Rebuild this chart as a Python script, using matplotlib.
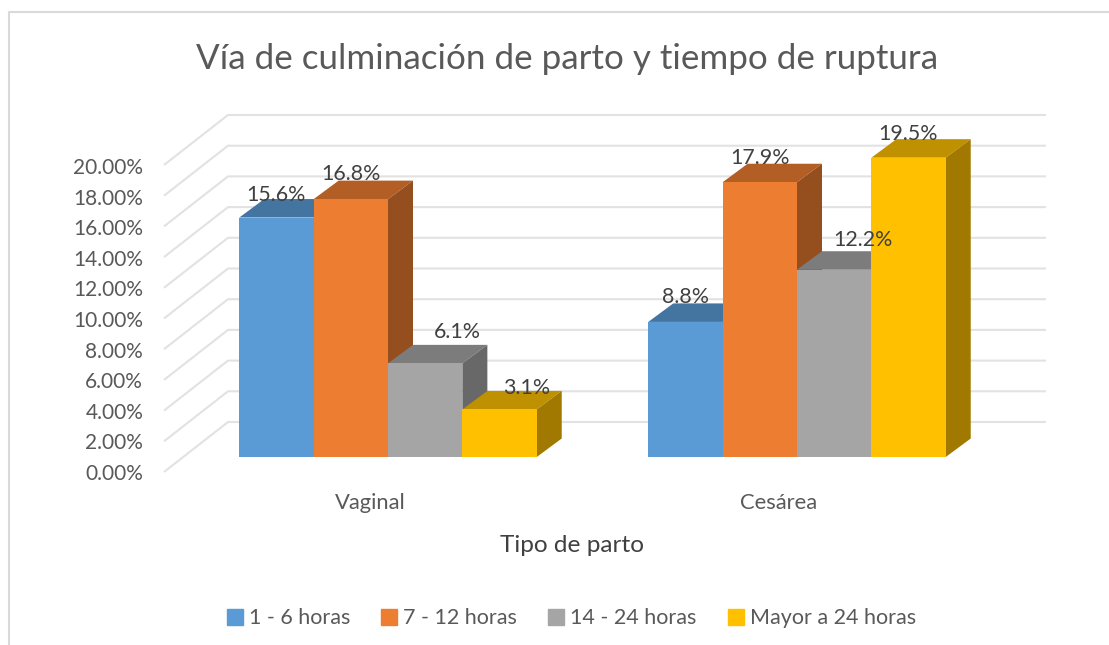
import matplotlib
matplotlib.use("Agg")
import matplotlib.pyplot as plt
from matplotlib.colors import to_rgb
from matplotlib.lines import Line2D
from matplotlib.patches import Polygon

# Datos del grafico
categories = ["Vaginal", "Cesárea"]
series_names = ["1 - 6 horas", "7 - 12 horas", "14 - 24 horas", "Mayor a 24 horas"]
horas_1_6 = [15.6, 8.8]
horas_7_12 = [16.8, 17.9]
horas_14_24 = [6.1, 12.2]
horas_mayor_24 = [3.1, 19.5]
y_ticks = [0, 2, 4, 6, 8, 10, 12, 14, 16, 18, 20]

colors = ["#5B9BD5", "#ED7D31", "#A5A5A5", "#FFC000"]
series = [horas_1_6, horas_7_12, horas_14_24, horas_mayor_24]

W, H = 1109, 645
PX_X = 409.0  # pixeles entre categorias
PX_Y = 15.35  # pixeles por 1%
LEFT, RIGHT = 164, 1046
BASE = 457
TOP = 100
CENTER0 = 388
GRID_LINE = "#E2E2E2"
TEXT = "#595959"

plt.rcParams["font.family"] = ["Lato", "DejaVu Sans"]

fig = plt.figure(figsize=(W / 100, H / 100), dpi=100)
ax = fig.add_axes([LEFT / W, (H - BASE) / H, (RIGHT - LEFT) / W, (BASE - TOP) / H])
ax.set_xlim((LEFT - CENTER0) / PX_X, (RIGHT - CENTER0) / PX_X)
ax.set_ylim(0, (BASE - TOP) / PX_Y)
for s in ax.spines.values():
    s.set_visible(False)
ax.patch.set_alpha(0)


def dx(px):
    return px / PX_X


def dy(px):
    return px / PX_Y


# Paredes: lineas de la cuadricula
x_left = ax.get_xlim()[0]
x_right = ax.get_xlim()[1]
for t in y_ticks:
    ax.plot([x_left, x_left + dx(64), x_right],
            [t - dy(15), t + dy(35), t + dy(35)],
            color=GRID_LINE, lw=1.5, clip_on=False, zorder=1, solid_capstyle="butt")

# Barras con caras 3D
width = 1 / 5.5
depth_x, depth_y = dx(25), dy(18.5)
label_shift = [[(0, 23), (0, 25), (32, 31), (27, 21)],
               [(0, 25), (0, 24), (29, 30), (0, 24)]]
z = 2
for c in range(len(categories)):
    for i, values in enumerate(series):
        v = values[c]
        x0 = c + (i - 2) * width
        x1 = x0 + width
        rgb = to_rgb(colors[i])
        top = tuple(k * 0.75 for k in rgb)
        side = tuple(k * 0.63 for k in rgb)
        ax.add_patch(Polygon([(x0, v), (x1, v), (x1 + depth_x, v + depth_y), (x0 + depth_x, v + depth_y)],
                             closed=True, fc=top, ec="none", clip_on=False, zorder=z))
        ax.add_patch(Polygon([(x1, 0), (x1 + depth_x, depth_y), (x1 + depth_x, v + depth_y), (x1, v)],
                             closed=True, fc=side, ec="none", clip_on=False, zorder=z))
        ax.bar(x0, v, width, align="edge", color=colors[i], clip_on=False, zorder=z + 0.5)
        z += 1

# Etiquetas de datos (al final, encima de las barras)
for c in range(len(categories)):
    for i, values in enumerate(series):
        sx, sy = label_shift[c][i]
        ax.text(c + (i - 1.5) * width + dx(sx), values[c] + dy(sy), f"{values[c]}%",
                ha="center", va="center", fontsize=15.4, color="#404040", zorder=100)

# las etiquetas de categoria quedan un poco a la izquierda del grupo
ax.set_xticks([c - dx(18) for c in range(len(categories))], categories)
ax.tick_params(axis="x", length=0, pad=26, labelsize=15.8, labelcolor=TEXT)
ax.set_yticks([])

# Eje Y con sus etiquetas
ax_y = fig.add_axes([LEFT / W, (H - 472) / H, 0.01, 306 / H])
ax_y.set_ylim(0, 20)
ax_y.patch.set_alpha(0)
ax_y.set_xticks([])
ax_y.set_yticks(y_ticks, [f"{t:.2f}%" for t in y_ticks])
ax_y.tick_params(axis="y", length=0, pad=15, labelsize=15, labelcolor=TEXT)
for s in ax_y.spines.values():
    s.set_visible(False)

# Textos
fig.text(567 / W, 1 - 59 / H, "Vía de culminación de parto y tiempo de ruptura",
         ha="center", va="center", fontsize=25.2, color=TEXT)
fig.text(572.5 / W, 1 - 545 / H, "Tipo de parto", ha="center", va="center", fontsize=17.6, color="#404040")

# Leyenda
handles = [Line2D([], [], marker="s", ls="none", ms=11, mfc=col, mec=col) for col in colors]
fig.legend(handles, series_names, ncol=4, loc="center", bbox_to_anchor=(569.5 / W, 1 - 618.5 / H), frameon=False,
           fontsize=15.5, labelcolor=TEXT, handletextpad=0.1, columnspacing=1.26, handlelength=1.1)

# Marco: solo izquierda y arriba
frame_x = [9, 9, 1109]
frame_y = [645, 12, 12]
fig.add_artist(Line2D([a / W for a in frame_x], [1 - b / H for b in frame_y], color="#D9D9D9", lw=1.5))

fig.savefig("out.png", dpi=100)
